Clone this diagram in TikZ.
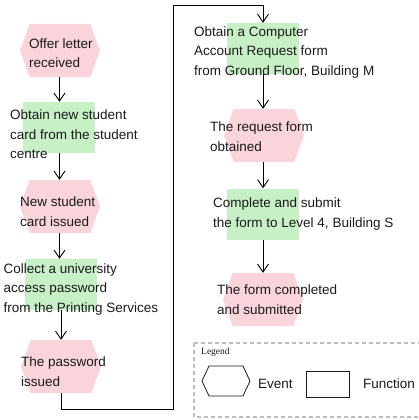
\documentclass[tikz,border=0pt]{standalone}
\usepackage{fontspec}
\setmainfont{Liberation Sans}
\newfontfamily\legendfont{Liberation Serif}
\usetikzlibrary{arrows.meta,shapes.symbols,positioning}
\definecolor{eventpink}{HTML}{F9D4DB}
\definecolor{funcgreen}{HTML}{C7F0C6}
\definecolor{legendgray}{HTML}{BDBDBD}
\definecolor{inkgray}{HTML}{1A1A1A}

\begin{document}
\begin{tikzpicture}[x=1pt,y=-1pt,>={Straight Barb[length=8pt,width=11pt]},
  eventbox/.style={signal,signal to=west and east,signal pointer angle=140,fill=eventpink,minimum width=80pt,minimum height=53pt,inner sep=0pt},
  funcbox/.style={fill=funcgreen,minimum width=72pt,minimum height=51pt,inner sep=0pt},
  steptext/.style={anchor=base west,align=left,inner sep=0pt,text=inkgray,font=\fontsize{13.5}{19.5}\selectfont},
  flow/.style={->,line width=0.9pt}]
  \useasboundingbox (0,0) rectangle (419,420);

  % left column
  \node[eventbox] (offer) at (60,50.5) {};
  \node[funcbox] (card) at (59,127.5) {};
  \node[eventbox] (issued) at (60,206.5) {};
  \node[funcbox] (collect) at (60.5,284.5) {};
  \node[eventbox] (pwd) at (61,366.5) {};

  % right column
  \node[funcbox] (acct) at (263,48.5) {};
  \node[eventbox] (formok) at (264,135.5) {};
  \node[funcbox] (submit) at (263,214) {};
  \node[eventbox] (done) at (263,299.5) {};

  % texts (placed at the baseline of their last line)
  \node[steptext] (offertext) at (29,67.5) {Offer letter\\received};
  \node[steptext] (cardtext) at (10,158.5) {Obtain new student\\card from the student\\centre};
  \node[steptext] (issuedtext) at (20,226) {New student\\card issued};
  \node[steptext] (collecttext) at (3.5,312) {Collect a university\\access password\\from the Printing Services};
  \node[steptext] (pwdtext) at (21,386) {The password\\issued};
  \node[steptext] (accttext) at (194,75) {Obtain a Computer\\Account Request form\\from Ground Floor, Building M};
  \node[steptext] (formoktext) at (210,151) {The request form\\obtained};
  \node[steptext] (submittext) at (213,227) {Complete and submit\\the form to Level 4, Building S};
  \node[steptext] (donetext) at (217,314) {The form completed\\and submitted};

  % connectors
  \coordinate (leftline) at (59.5,0);
  \draw[flow] (offer.south -| leftline) -- (card.north -| leftline);
  \draw[flow] (card.south -| leftline) -- (issued.north -| leftline);
  \draw[flow] (issued.south -| leftline) -- (collect.north -| leftline);
  \draw[flow] (collect.south -| pwd.south) -- (pwd.north);
  \coordinate (turnlow) at (173,409);
  \coordinate (turnhigh) at (173,5);
  \draw[flow] (pwd.south) |- (turnlow) -- (turnhigh) -| (acct.north);
  \draw[flow] (acct.south) -- (acct.south |- formok.north);
  \draw[flow] (formok.south -| submit.north) -- (submit.north);
  \draw[flow] (submit.south) -- (submit.south |- done.north);

  % legend
  \draw[legendgray,line width=1.2pt,dash pattern=on 4pt off 3pt] (194,343) rectangle (430,417);
  \node[anchor=base west,inner sep=0pt,text=inkgray,font=\legendfont\fontsize{9.5}{11}\selectfont] (legendtitle) at (201,354) {Legend};
  \node[signal,signal to=west and east,signal pointer angle=130,draw=inkgray,line width=0.8pt,minimum width=48pt,minimum height=30pt,inner sep=0pt] (keyevent) at (226,381) {};
  \node[steptext] (keyeventtext) at (258,388) {Event};
  \node[draw=inkgray,line width=0.8pt,minimum width=43pt,minimum height=26pt,inner sep=0pt] (keyfunc) at (327.5,384) {};
  \node[steptext] (keyfunctext) at (363,388) {Function};
\end{tikzpicture}
\end{document}
